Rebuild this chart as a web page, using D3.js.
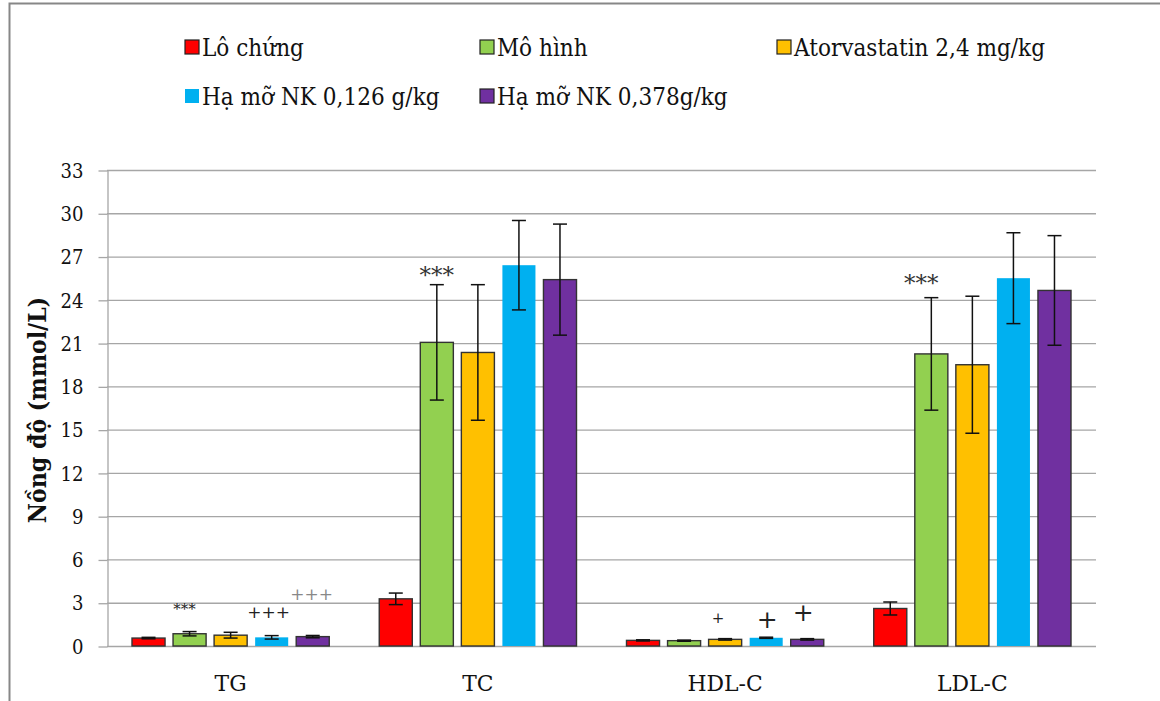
<!DOCTYPE html>
<html>
<head>
<meta charset="utf-8">
<script src="https://cdn.jsdelivr.net/npm/d3@7"></script>
<style>
  html, body { margin: 0; padding: 0; background: #fff; }
  svg text { font-family: "DejaVu Serif", serif; }
</style>
</head>
<body>
<svg id="chart" width="1160" height="701"></svg>
<script>
// data
const categories = ['TG', 'TC', 'HDL-C', 'LDL-C'];
const seriesNames = ['Lô chứng', 'Mô hình', 'Atorvastatin 2,4 mg/kg', 'Hạ mỡ NK 0,126 g/kg', 'Hạ mỡ NK 0,378g/kg'];
const seriesColors = ['#FF0000', '#92D050', '#FFC000', '#00B0F0', '#7030A0'];

// one array per series, in category order
const loChung   = [0.55, 3.27, 0.39, 2.6];
const moHinh    = [0.85, 21.05, 0.37, 20.25];
const atorva    = [0.75, 20.35, 0.46, 19.5];
const haMo126   = [0.6, 26.4, 0.57, 25.5];
const haMo378   = [0.65, 25.4, 0.46, 24.65];

const loChungErr = [0.05, 0.4, 0.04, 0.45];
const moHinhErr  = [0.15, 4.0, 0.04, 3.9];
const atorvaErr  = [0.2, 4.7, 0.05, 4.75];
const haMo126Err = [0.12, 3.1, 0.04, 3.15];
const haMo378Err = [0.08, 3.85, 0.05, 3.8];

const yTicks = [0, 3, 6, 9, 12, 15, 18, 21, 24, 27, 30, 33];

// significance marks: category, series index, text
const marks = [
  { cat: 'TG', s: 1, text: '***', size: 15, lift: 23, dx: -5, color: '#222' },
  { cat: 'TG', s: 3, text: '+++', size: 17, lift: 24, dx: -3, color: '#222' },
  { cat: 'TG', s: 4, text: '+++', size: 17, lift: 41, dx: -1, color: '#888' },
  { cat: 'TC', s: 1, text: '***', size: 23, lift: 10, dx: 0, color: '#333' },
  { cat: 'HDL-C', s: 2, text: '+', size: 15, lift: 21, dx: -7, color: '#222' },
  { cat: 'HDL-C', s: 3, text: '+', size: 25, lift: 18, dx: 1, color: '#222' },
  { cat: 'HDL-C', s: 4, text: '+', size: 25, lift: 26, dx: -4, color: '#222' },
  { cat: 'LDL-C', s: 1, text: '***', size: 23, lift: 15, dx: -10, color: '#333' }
];

const values = [loChung, moHinh, atorva, haMo126, haMo378];
const errors = [loChungErr, moHinhErr, atorvaErr, haMo126Err, haMo378Err];

// DejaVu Serif is wider than the Times face of the original, squeeze it a bit
function condense(sel, ratio) {
  sel.each(function () {
    const w = this.getComputedTextLength();
    d3.select(this)
      .attr('textLength', w * ratio)
      .attr('lengthAdjust', 'spacingAndGlyphs');
  });
}

const svg = d3.select('#chart');

// outer frame
svg.append('path')
  .attr('d', 'M9.5,701 L9.5,3.5 L1160,3.5')
  .attr('fill', 'none')
  .attr('stroke', '#878787')
  .attr('stroke-width', 2);

const plot = { left: 107, right: 1096, top: 170, bottom: 646 };

const y = d3.scaleLinear().domain([0, 33]).range([plot.bottom, plot.top]);
const x0 = d3.scaleBand().domain(categories).range([plot.left, plot.right]);
const x1 = d3.scaleBand()
  .domain(d3.range(seriesNames.length))
  .range([25, x0.bandwidth() - 25])
  .paddingInner(0.195);

// gridlines
svg.append('g')
  .selectAll('line')
  .data(yTicks)
  .join('line')
  .attr('x1', plot.left)
  .attr('x2', plot.right)
  .attr('y1', d => y(d) + 0.5)
  .attr('y2', d => y(d) + 0.5)
  .attr('stroke', '#A6A6A6')
  .attr('stroke-width', 1.3);

// y axis
const yAxis = svg.append('g')
  .attr('transform', `translate(${plot.left + 0.5},0.5)`)
  .call(d3.axisLeft(y).tickValues(yTicks).tickSize(9).tickPadding(15).tickSizeOuter(0));
yAxis.attr('font-family', '"DejaVu Serif", serif');
yAxis.select('.domain').attr('stroke', '#A6A6A6').attr('stroke-width', 1.3);
yAxis.selectAll('.tick line').attr('stroke', '#A6A6A6').attr('stroke-width', 1.3);
yAxis.selectAll('.tick text')
  .attr('font-size', 21)
  .attr('fill', '#111')
  .call(condense, 0.86);

svg.append('text')
  .attr('transform', `translate(46,${(plot.top + plot.bottom) / 2 + 2}) rotate(-90)`)
  .attr('text-anchor', 'middle')
  .attr('font-size', 24)
  .attr('font-weight', 'bold')
  .attr('fill', '#111')
  .text('Nồng độ (mmol/L)')
  .call(condense, 0.92);

// bars
const rows = [];
categories.forEach((c, ci) => {
  values.forEach((vals, si) => {
    rows.push({ cat: c, s: si, v: vals[ci], e: errors[si][ci] });
  });
});

const barX = d => x0(d.cat) + x1(d.s);

svg.append('g')
  .selectAll('rect')
  .data(rows)
  .join('rect')
  .attr('x', barX)
  .attr('y', d => y(d.v))
  .attr('width', x1.bandwidth())
  .attr('height', d => y(0) - y(d.v))
  .attr('fill', d => seriesColors[d.s])
  .attr('stroke', d => d.s === 3 ? 'none' : '#333')
  .attr('stroke-width', 1.4);

// error bars
const eb = svg.append('g')
  .attr('stroke', '#111')
  .attr('stroke-width', 1.5)
  .selectAll('g')
  .data(rows)
  .join('g')
  .attr('transform', d => `translate(${barX(d) + x1.bandwidth() / 2},0)`);

eb.append('line')
  .attr('y1', d => y(d.v + d.e))
  .attr('y2', d => y(d.v - d.e));
eb.append('line')
  .attr('x1', -7).attr('x2', 7)
  .attr('y1', d => y(d.v + d.e))
  .attr('y2', d => y(d.v + d.e));
eb.append('line')
  .attr('x1', -7).attr('x2', 7)
  .attr('y1', d => y(d.v - d.e))
  .attr('y2', d => y(d.v - d.e));

// significance marks
svg.append('g')
  .selectAll('text')
  .data(marks)
  .join('text')
  .attr('x', d => x0(d.cat) + x1(d.s) + x1.bandwidth() / 2 + d.dx)
  .attr('y', d => {
    const ci = categories.indexOf(d.cat);
    return y(values[d.s][ci] + errors[d.s][ci]) - d.lift;
  })
  .attr('text-anchor', 'middle')
  .attr('dominant-baseline', 'central')
  .attr('font-size', d => d.size)
  .attr('fill', d => d.color)
  .text(d => d.text);

// category labels
svg.append('g')
  .selectAll('text')
  .data(categories)
  .join('text')
  .attr('x', d => x0(d) + x0.bandwidth() / 2)
  .attr('y', 691)
  .attr('text-anchor', 'middle')
  .attr('font-size', 23)
  .attr('fill', '#111')
  .text(d => d)
  .call(condense, 0.95);

// legend
const legendPos = [[185, 40], [480, 40], [777, 40], [185, 89], [480, 89]];
const lg = svg.append('g')
  .selectAll('g')
  .data(seriesNames)
  .join('g')
  .attr('transform', (d, i) => `translate(${legendPos[i][0]},${legendPos[i][1]})`);

lg.append('rect')
  .attr('width', 14)
  .attr('height', 14)
  .attr('fill', (d, i) => seriesColors[i])
  .attr('stroke', (d, i) => i === 3 ? 'none' : '#222')
  .attr('stroke-width', 1.2);

lg.append('text')
  .attr('x', 17)
  .attr('y', 16)
  .attr('font-size', 24)
  .attr('fill', '#111')
  .text(d => d)
  .call(condense, 0.9);
</script>
</body>
</html>
